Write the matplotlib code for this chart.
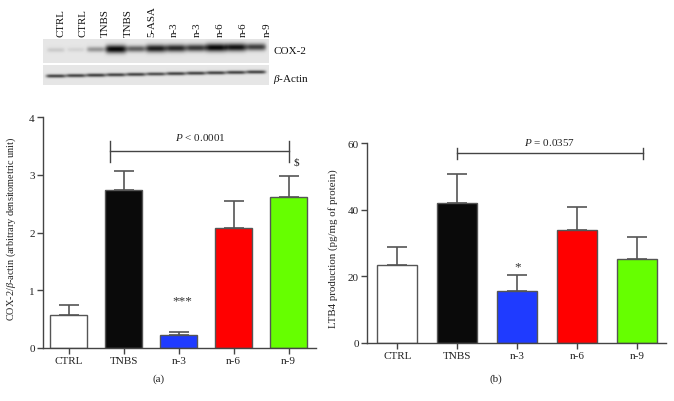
import numpy as np
import matplotlib
matplotlib.use("Agg")
import matplotlib.pyplot as plt

plt.rcParams['font.family'] = ['Liberation Serif', 'DejaVu Serif']
plt.rcParams['mathtext.fontset'] = 'custom'
plt.rcParams['mathtext.rm'] = 'Liberation Serif'
plt.rcParams['mathtext.it'] = 'Liberation Serif:italic'
plt.rcParams['mathtext.bf'] = 'Liberation Serif:bold'

# ---------------- data ----------------
groups = ["CTRL", "TNBS", "n-3", "n-6", "n-9"]
colors = ["#ffffff", "#0a0a0a", "#1f3bff", "#ff0000", "#66ff00"]

cox2_mean = [0.57, 2.74, 0.23, 2.07, 2.61]
cox2_err = [0.18, 0.33, 0.05, 0.48, 0.37]

ltb4_mean = [23.4, 42.1, 15.7, 34.0, 25.3]
ltb4_err = [5.5, 8.6, 4.8, 7.0, 6.4]

blot_lanes = ["CTRL", "CTRL", "TNBS", "TNBS", "5-ASA", "n-3", "n-3", "n-6", "n-6", "n-9"]
cox2_band = [0.12, 0.08, 0.35, 1.00, 0.60, 0.90, 0.85, 0.78, 1.00, 0.95, 0.75]
actin_band = [0.70, 0.70, 0.72, 0.70, 0.70, 0.66, 0.70, 0.70, 0.70, 0.70, 0.70]

W, H = 674, 402
fig = plt.figure(figsize=(W / 100, H / 100), dpi=100)

# ---------------- blot overlay ----------------
ov = fig.add_axes([0, 0, 1, 1])
ov.set_xlim(0, W)
ov.set_ylim(H, 0)
ov.axis("off")
ov.set_zorder(-1)

def strip(x0, x1, y0, y1, amps, band_y, band_h, shift_last=0.0):
    nx, ny = int(x1 - x0), int(y1 - y0)
    xs = np.arange(nx) + 0.5
    ys = np.arange(ny) + 0.5
    X, Y = np.meshgrid(xs, ys)
    img = np.full((ny, nx), 0.0)
    n = len(amps)
    step = (nx - 6) / n
    for i, a in enumerate(amps):
        cx = 3 + step * (i + 0.5)
        cy = band_y - shift_last * i / (n - 1)
        w = step * 0.5 * (0.85 + 0.2 * a)
        hh = band_h * (0.6 + 0.6 * a)
        img += a * np.exp(-((X - cx) / w) ** 6) * np.exp(-((Y - cy) / hh) ** 2)
    img = np.clip(img, 0, 1)
    gray = 0.90 - 0.86 * img
    ov.imshow(gray, cmap="gray", vmin=0, vmax=1, extent=(x0, x1, y1, y0),
              interpolation="bilinear", aspect="auto")

strip(43, 269, 40, 64, cox2_band, 11, 3.4, shift_last=3)
strip(43, 269, 66, 86, actin_band, 11, 1.8, shift_last=4)
ov.set_xlim(0, W)
ov.set_ylim(H, 0)

lane_x = [61, 83, 105, 128, 152, 174, 197, 220, 243, 267]
for lx, lab in zip(lane_x, blot_lanes):
    ov.text(lx, 37, lab, rotation=90, ha="center", va="bottom", fontsize=7.8, color="#111111")
ov.text(273, 52, "COX-2", ha="left", va="center", fontsize=8, color="#111111")
ov.text(273, 79, r"$\beta$-Actin", ha="left", va="center", fontsize=8, color="#111111")

# ---------------- bar panels ----------------
edge = "#555555"

def panel(rect, means, errs, ylim, yticks, ylabel, lfs):
    ax = fig.add_axes(rect)
    x = np.arange(len(groups))
    ax.errorbar(x, means, yerr=[np.zeros(len(errs)), errs], fmt="none",
                ecolor="#555555", elinewidth=1.2, capsize=7.5, capthick=1.2, zorder=1)
    ax.bar(x, means, width=0.67, color=colors, edgecolor=edge, linewidth=1.0, zorder=2)
    ax.set_ylim(*ylim)
    ax.set_yticks(yticks)
    ax.set_xticks(x)
    ax.set_xticklabels(groups)
    for s in ["top", "right"]:
        ax.spines[s].set_visible(False)
    for s in ["left", "bottom"]:
        ax.spines[s].set_color("#444444")
        ax.spines[s].set_linewidth(1.0)
    ax.tick_params(direction="out", length=4, width=1.0, color="#444444",
                   labelsize=8, labelcolor="#222222", pad=2)
    ax.set_ylabel(ylabel, fontsize=lfs, color="#222222")
    return ax

ax1 = panel([43 / W, (H - 349) / H, 273 / W, 231 / H], cox2_mean, cox2_err,
            (0, 4), [0, 1, 2, 3, 4], r"COX-2/$\beta$-actin (arbitrary densitometric unit)", 7.4)
ax1.set_xlim(-0.47, 4.5)
ax1.yaxis.set_label_coords(-0.092, 0.52)

ax2 = panel([367.3 / W, (H - 344) / H, 298.7 / W, 199.7 / H], ltb4_mean, ltb4_err,
            (0, 60), [0, 20, 40, 60], "LTB4 production (pg/mg of protein)", 7.8)
ax2.set_xlim(-0.5, 4.48)
ax2.yaxis.set_label_coords(-0.098, 0.476)

# brackets and annotations
bc = "#444444"
ax1.plot([0.75, 4.0], [3.41, 3.41], color=bc, lw=1.0, clip_on=False)
ax1.plot([0.75, 0.75], [3.22, 3.59], color=bc, lw=1.0, clip_on=False)
ax1.plot([4.0, 4.0], [3.22, 3.59], color=bc, lw=1.0, clip_on=False)
ax1.text(2.4, 3.66, r"$P$ < 0.0001", ha="center", va="center", fontsize=8, color="#222222")
ax1.text(4.15, 3.22, r"\$", ha="center", va="center", fontsize=8, color="#222222")
ax1.text(2.07, 0.82, "***", ha="center", va="center", fontsize=9.5, color="#333333")

ax2.plot([1.0, 4.09], [57.0, 57.0], color=bc, lw=1.0, clip_on=False)
ax2.plot([1.0, 1.0], [55.2, 58.6], color=bc, lw=1.0, clip_on=False)
ax2.plot([4.09, 4.09], [55.2, 58.6], color=bc, lw=1.0, clip_on=False)
ax2.text(2.53, 60.5, r"$P$ = 0.0357", ha="center", va="center", fontsize=8,
         color="#222222", clip_on=False)
ax2.text(2.0, 23.0, "*", ha="center", va="center", fontsize=9.5, color="#333333")

fig.text(159 / W, 1 - 379 / H, "(a)", ha="center", va="center", fontsize=8, color="#222222")
fig.text(496 / W, 1 - 379 / H, "(b)", ha="center", va="center", fontsize=8, color="#222222")

fig.savefig("out.png", dpi=100, facecolor="white")
